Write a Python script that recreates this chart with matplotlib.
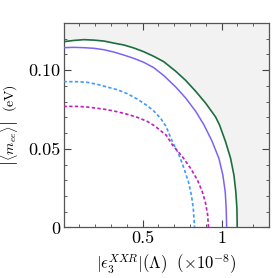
import matplotlib
matplotlib.use("Agg")
import matplotlib.pyplot as plt
from matplotlib.ticker import MultipleLocator, FixedLocator, FixedFormatter

plt.rcParams['font.family'] = 'serif'
plt.rcParams['font.serif'] = ['cmr10', 'DejaVu Serif']
plt.rcParams['mathtext.fontset'] = 'cm'
plt.rcParams['axes.unicode_minus'] = False

# Curve data (x in units of 1e-8, y in eV)
green_x = [0.0, 0.066, 0.129, 0.192, 0.256, 0.319, 0.382, 0.445, 0.508, 0.571, 0.634, 0.710,
           0.773, 0.836, 0.899, 0.962, 0.987, 1.025, 1.057, 1.078, 1.090, 1.097, 1.099]
green_y = [0.1180, 0.1188, 0.1193, 0.1190, 0.1184, 0.1171, 0.1159, 0.1140, 0.1116, 0.1087, 0.1053, 0.0992,
           0.0934, 0.0865, 0.0790, 0.0702, 0.0651, 0.0545, 0.0439, 0.0333, 0.0227, 0.0122, 0.0]

solid_x = [0.0, 0.066, 0.129, 0.192, 0.256, 0.319, 0.382, 0.445, 0.508, 0.571, 0.634, 0.710,
           0.773, 0.836, 0.889, 0.941, 0.983, 1.008, 1.023, 1.029, 1.032]
solid_y = [0.1142, 0.1144, 0.1142, 0.1138, 0.1129, 0.1114, 0.1095, 0.1074, 0.1049, 0.1015, 0.0965, 0.0892,
           0.0822, 0.0738, 0.0651, 0.0545, 0.0439, 0.0333, 0.0227, 0.0122, 0.0]

dblue_x = [0.0, 0.087, 0.150, 0.213, 0.277, 0.340, 0.403, 0.466, 0.529, 0.571, 0.613, 0.647,
           0.689, 0.731, 0.762, 0.790, 0.809, 0.821, 0.828, 0.829]
dblue_y = [0.0926, 0.0926, 0.0922, 0.0909, 0.0892, 0.0875, 0.0850, 0.0816, 0.0774, 0.0740, 0.0695, 0.0645,
           0.0545, 0.0460, 0.0376, 0.0291, 0.0206, 0.0122, 0.0016, 0.0]

dmag_x = [0.0, 0.087, 0.150, 0.213, 0.277, 0.340, 0.403, 0.466, 0.529, 0.577, 0.651, 0.689,
          0.752, 0.804, 0.847, 0.878, 0.899, 0.912, 0.916, 0.917]
dmag_y = [0.0769, 0.0769, 0.0765, 0.0757, 0.0748, 0.0735, 0.0719, 0.0700, 0.0674, 0.0645, 0.0585, 0.0524,
          0.0450, 0.0376, 0.0302, 0.0227, 0.0153, 0.0079, 0.0016, 0.0]

xticks = [0.5, 1.0]
xticklabels = ["0.5", "1"]
yticks = [0.0, 0.05, 0.10]
yticklabels = ["0", "0.05", "0.10"]

fig = plt.figure(figsize=(2.72, 2.78), dpi=100)
ax = fig.add_axes([0.2335, 0.1817, 0.989 - 0.2335, 0.918 - 0.1817])
ax.set_xlim(0, 1.3)
ax.set_ylim(0, 0.13)
ax.set_facecolor('#f2f2f2')
ax.fill_between(green_x, 0, green_y, color='white', zorder=1, linewidth=0)

common = dict(zorder=3, solid_joinstyle='round', dash_joinstyle='round')
ax.plot(green_x, green_y, color='#1b6e3e', lw=1.2, **common)
ax.plot(solid_x, solid_y, color='#7b63f5', lw=1.1, **common)
ax.plot(dblue_x, dblue_y, color='#3d9bff', lw=1.2, ls=(0, (2, 1.4)), **common)
ax.plot(dmag_x, dmag_y, color='#c21cc2', lw=1.2, ls=(0, (2, 1.4)), **common)

ax.xaxis.set_major_locator(FixedLocator(xticks))
ax.xaxis.set_major_formatter(FixedFormatter(xticklabels))
ax.xaxis.set_minor_locator(MultipleLocator(0.1))
ax.yaxis.set_major_locator(FixedLocator(yticks))
ax.yaxis.set_major_formatter(FixedFormatter(yticklabels))
ax.yaxis.set_minor_locator(MultipleLocator(0.01))
ax.tick_params(which='both', direction='in', top=True, right=True, color='#444444')
ax.tick_params(which='major', length=5, width=0.8, labelsize=13, pad=2)
ax.tick_params(which='minor', length=2.5, width=0.6)
for s in ax.spines.values():
    s.set_color('#555555')
    s.set_linewidth(0.9)

ax.set_ylabel(r'$\left|\langle m_{ee}\rangle\right|\ \ \mathrm{(eV)}$', fontsize=10)
ax.yaxis.set_label_coords(-0.21, 0.5)
ax.set_xlabel(r'$|\epsilon_3^{XXR}|(\Lambda)\ \ (\times 10^{-8})$', fontsize=12)
ax.xaxis.set_label_coords(0.5, -0.12)

fig.savefig('out.png', dpi=100)
